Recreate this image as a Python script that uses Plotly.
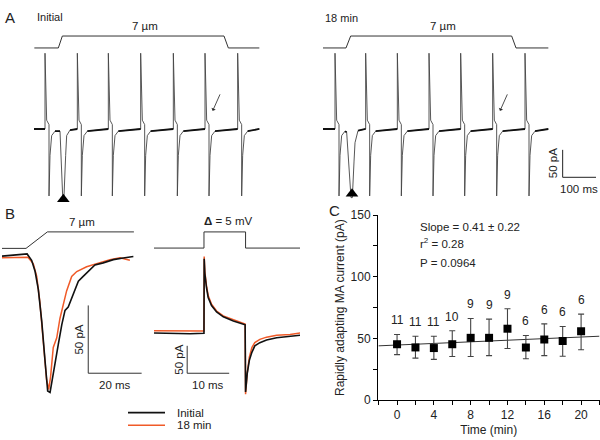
import plotly.graph_objects as go

# ---------------- Panel A data (ms, pA, um) ----------------
spike_dt = [0, 0, 5, 12, 12, 15, 20, 30]          # shape of a stimulus transient (ms offsets)
spike_pa = [0, 138, 16, 8, -122, -48, -12, -4]    # pA
a_init_spike_t = [33, 130, 223, 320, 418, 513, 611]
a_18_spike_t = [36, 128, 223, 318, 413, 509, 606]
a_init_dip_t = [78, 86, 90, 95, 98, 108]
a_init_dip_pa = [-4, -122, -122, -48, -12, -2]
a_18_dip_t = [71, 84, 88, 93, 96, 105]
a_18_dip_pa = [-6, -125, -125, -60, -25, -3]
a_end_t = 676
a_stim_init_t = [1, 73, 85, 570, 583, 676]
a_stim_18_t = [-1, 69, 83, 566, 579, 676]
a_stim_um = [0, 0, 7, 7, 0, 0]
a_tri_t = [88, 87]
a_tri_pa = [-128, -118]

# ---------------- Panel B left data (ms, pA) ----------------
bl_init_t = [0, 4.9, 9.4, 11.1, 12.4, 13.6, 14.9, 16.1, 17.1, 18.0, 18.6, 19.9, 21.1, 22.4,
             23.6, 24.8, 26.7, 28.6, 30.4, 32.3, 34.8, 37.9, 41.7, 45.4, 49.2]
bl_init_pa = [0, 0.6, 1.6, -3.1, -11.4, -24.5, -48.3, -76.8, -99.5, -100.6, -93.5, -76.8, -64.9,
              -50.6, -40.0, -37.6, -28.1, -18.6, -15.0, -11.4, -6.6, -5.0, -2.6, -1.4, -0.3]
bl_18_t = [0, 4.9, 9.7, 11.7, 13.0, 14.2, 15.5, 16.7, 17.5, 18.2, 19.2, 20.5, 21.7, 23.0,
           24.2, 26.1, 28.0, 31.7, 35.5, 40.4, 44.2, 47.9]
bl_18_pa = [-1.2, -0.9, -0.9, -5.5, -15.0, -34.1, -62.6, -91.2, -98.4, -88.9, -67.4, -60.3,
            -46.0, -34.1, -25.7, -15.0, -11.4, -7.9, -5.5, -2.6, -1.2, -3.1]
bl_stim_t = [-0.1, 9.0, 17.0, 49.4]
bl_stim_um = [0, 0, 7, 7]

# ---------------- Panel B right data (ms, pA, mV) ----------------
br_init_t = [0, 8.6, 11.9, 11.95, 12.1, 12.5, 12.9, 13.7, 14.9, 16.5, 18.9, 21.7, 21.8, 22.2,
             22.7, 23.3, 24.0, 25.2, 26.8, 29.2, 32.4, 34.8]
br_init_pa = [0, -1.4, -0.5, 135, 108.8, 82.4, 64.7, 50.1, 38.3, 29.5, 21.9, 14.8, -107.6,
              -73.4, -49.9, -35.3, -23.5, -17.6, -12.9, -8.8, -5.8, -4.1]
br_18_t = [0, 11.9, 11.95, 12.1, 12.5, 12.9, 13.7, 14.9, 16.5, 18.9, 21.7, 21.8, 22.2, 22.7,
           23.3, 24.0, 25.2, 26.8, 29.2, 32.4, 34.8]
br_18_pa = [4.2, 3.4, 139.3, 112.3, 85.9, 68.3, 52.4, 40.0, 31.2, 24.2, 16.2, -111.6, -72.8,
            -44.1, -26.5, -17.6, -11.6, -7.6, -4.1, -2.8, 0]
br_stim_t = [0, 11.9, 11.9, 21.8, 21.8, 34.8]
br_stim_mv = [0, 0, 5, 5, 0, 0]

# ---------------- Panel C data ----------------
c_time = [0, 2, 4, 6, 8, 10, 12, 14, 16, 18, 20]
c_mean = [45.3, 42.7, 42.2, 45.3, 50.5, 50.5, 57.9, 42.7, 49.2, 47.9, 55.8]
c_upper = [53.2, 51.8, 51.8, 56.3, 66.2, 65.7, 74.1, 52.4, 61.8, 59.7, 69.7]
c_lower = [36.9, 34.0, 33.0, 35.3, 35.3, 36.1, 41.9, 33.5, 36.1, 35.6, 40.8]
c_n = [11, 11, 11, 10, 9, 9, 9, 6, 6, 6, 6]
fit_t = [-2, 22]
fit_y = [44.0, 51.8]

BLACK = "#111111"
ORANGE = "#F05A28"
FONT = "Liberation Sans, Arial, sans-serif"
W, H = 600, 440


def px(x):
    return x / W


def py(y):
    return 1 - y / H


layout = dict(width=W, height=H, margin=dict(l=0, r=0, t=0, b=0),
              paper_bgcolor="white", plot_bgcolor="rgba(0,0,0,0)",
              showlegend=False, font=dict(family=FONT, size=12, color="#222"))


def ax_names(i):
    return ("xaxis" if i == 1 else f"xaxis{i}", "yaxis" if i == 1 else f"yaxis{i}",
            "x" if i == 1 else f"x{i}", "y" if i == 1 else f"y{i}")


def hidden_axes(i, xpx, xr, ypx, yr):
    xa, ya, xn, yn = ax_names(i)
    layout[xa] = dict(domain=[px(xpx[0]), px(xpx[1])], range=xr, visible=False, anchor=yn)
    layout[ya] = dict(domain=[py(ypx[1]), py(ypx[0])], range=yr, visible=False, anchor=xn)
    return xn, yn


traces = []


def line(x, y, axes, color=BLACK, width=1.0):
    traces.append(go.Scatter(x=x, y=y, mode="lines", xaxis=axes[0], yaxis=axes[1],
                             line=dict(color=color, width=width), hoverinfo="skip"))


def build_a(spikes, dip_t, dip_pa, end):
    ft, fy, st, sy = [0], [0], [], []
    events = []
    for k, s in enumerate(spikes):
        events.append(([s + d for d in spike_dt], spike_pa))
        if k == 0:
            events.append((dip_t, dip_pa))
    last = (0, 0)
    for et, ep in events:
        st += [last[0], et[0], None]
        sy += [last[1], ep[0], None]
        ft += list(et)
        fy += list(ep)
        last = (et[-1], ep[-1])
    st += [last[0], end]
    sy += [last[1], 0]
    ft.append(end)
    fy.append(0)
    return ft, fy, st, sy


# ---- Panel A left ----
a1s = hidden_axes(1, (34, 262), [0, 684], (24, 46), [-2.1, 10.4])
a1c = hidden_axes(2, (34, 262), [0, 684], (44, 200), [-130.5, 144.6])
# ---- Panel A right ----
a2s = hidden_axes(3, (323, 600), [0, 831], (24, 46), [-2.1, 10.4])
a2c = hidden_axes(4, (323, 600), [0, 831], (44, 200), [-130.5, 144.6])

line(a_stim_init_t, a_stim_um, a1s, "#333", 1.0)
line(a_stim_18_t, a_stim_um, a2s, "#333", 1.0)

for (spk, dt_, dp_, axc) in [(a_init_spike_t, a_init_dip_t, a_init_dip_pa, a1c),
                             (a_18_spike_t, a_18_dip_t, a_18_dip_pa, a2c)]:
    ft, fy, st, sy = build_a(spk, dt_, dp_, a_end_t)
    line(ft, fy, axc, "#444", 0.9)
    line(st, sy, axc, BLACK, 1.8)

traces.append(go.Scatter(x=[a_tri_t[0]], y=[a_tri_pa[0]], xaxis=a1c[0], yaxis=a1c[1], mode="markers",
                         marker=dict(symbol="triangle-up", size=11, color="black"), cliponaxis=False))
traces.append(go.Scatter(x=[a_tri_t[1]], y=[a_tri_pa[1]], xaxis=a2c[0], yaxis=a2c[1], mode="markers",
                         marker=dict(symbol="triangle-up", size=11, color="black"), cliponaxis=False))

# scale bar A (100 ms, 50 pA)
sb_t, sb_p = 719, -88
line([sb_t, sb_t, None, sb_t, sb_t + 100], [sb_p + 50, sb_p, None, sb_p, sb_p], a2c, "#222", 1.0)

# ---- Panel B left ----
b1s = hidden_axes(5, (2, 150), [0, 55.43], (228, 252), [-1.11, 8.77])
b1c = hidden_axes(6, (2, 150), [0, 55.43], (250, 405), [-105.5, 5.2])
line(bl_stim_t, bl_stim_um, b1s, "#333", 1.0)
line(bl_18_t, bl_18_pa, b1c, ORANGE, 1.5)
line(bl_init_t, bl_init_pa, b1c, BLACK, 1.6)
sbl_t, sbl_p = 32.3, -86.4
line([sbl_t, sbl_t, None, sbl_t, sbl_t + 20], [sbl_p + 50, sbl_p, None, sbl_p, sbl_p], b1c, "#333", 1.0)

# ---- Panel B right ----
b2s = hidden_axes(7, (154, 300), [0, 34.76], (228, 252), [-0.9, 6.29])
b2c = hidden_axes(8, (154, 300), [0, 34.76], (250, 405), [-120.5, 152.9])
line(br_stim_t, br_stim_mv, b2s, "#333", 1.0)
line(br_18_t, br_18_pa, b2c, ORANGE, 1.5)
line(br_init_t, br_init_pa, b2c, BLACK, 1.6)
sbr_t, sbr_p = 7.9, -73.4
line([sbr_t, sbr_t, None, sbr_t, sbr_t + 10], [sbr_p + 50, sbr_p, None, sbr_p, sbr_p], b2c, "#333", 1.0)

# ---- Panel C ----
xa, ya, xn, yn = ax_names(9)
layout[xa] = dict(domain=[px(378), px(599.5)], range=[-2.07, 22], anchor=yn,
                  showline=True, linecolor="black", linewidth=1, ticks="outside", ticklen=4,
                  tickcolor="black", tickvals=[0, 4, 8, 12, 16, 20], showgrid=False, zeroline=False,
                  minor=dict(tickvals=[-2, 2, 6, 10, 14, 18, 22], ticks="outside", ticklen=4,
                             tickcolor="black", showgrid=False),
                  tickfont=dict(size=12, color="#222"),
                  title=dict(text="Time (min)", font=dict(size=12, color="#222"), standoff=4))
layout[ya] = dict(domain=[py(406), py(215)], range=[0, 150], anchor=xn,
                  showline=True, linecolor="black", linewidth=1, ticks="outside", ticklen=4,
                  tickcolor="black", tickvals=[0, 50, 100, 150], showgrid=False, zeroline=False,
                  minor=dict(tickvals=[25, 75, 125], ticks="outside", ticklen=4,
                             tickcolor="black", showgrid=False),
                  tickfont=dict(size=12, color="#222"),
                  title=dict(text="Rapidly adapting MA current (pA)", font=dict(size=12, color="#222"),
                             standoff=3))

traces.append(go.Scatter(x=fit_t, y=fit_y, mode="lines", xaxis=xn, yaxis=yn,
                         line=dict(color="#333", width=1), hoverinfo="skip"))
traces.append(go.Scatter(
    x=c_time, y=c_mean, mode="markers", xaxis=xn, yaxis=yn,
    marker=dict(symbol="square", size=8, color="black"),
    error_y=dict(type="data", symmetric=False,
                 array=[u - m for u, m in zip(c_upper, c_mean)],
                 arrayminus=[m - l for m, l in zip(c_mean, c_lower)],
                 color="#444", thickness=1.1, width=3)))

annotations = []
for t, u, n in zip(c_time, c_upper, c_n):
    annotations.append(dict(x=t, y=u, xref=xn, yref=yn, text=str(n), showarrow=False,
                            yanchor="bottom", yshift=5, font=dict(size=12, color="#222")))


def ptext(x, y, text, size=12, xanchor="center", textangle=0):
    annotations.append(dict(x=px(x), y=py(y), xref="paper", yref="paper", text=text, showarrow=False,
                            xanchor=xanchor, yanchor="middle", textangle=textangle,
                            font=dict(size=size, color="#222", family=FONT)))


# stats text
ptext(418, 227, "Slope = 0.41 ± 0.22", 11.5, "left")
ptext(418, 244, "r<sup>2</sup> = 0.28", 11.5, "left")
ptext(418, 264, "P = 0.0964", 11.5, "left")

# panel letters and labels
ptext(3, 11, "A", 15, "left")
ptext(3, 213, "B", 15, "left")
ptext(327, 210, "C", 15, "left")
ptext(35, 10, "Initial", 11, "left")
ptext(323, 11, "18 min", 11, "left")
ptext(145, 20, "7 µm", 11.5)
ptext(443, 20, "7 µm", 11.5)
ptext(82, 222, "7 µm", 11.5)
ptext(228, 221, "<b>Δ</b> = 5 mV", 11.5)


# scale bar labels (data-anchored)
def dtext(axes, x, y, text, xshift=0, yshift=0, angle=0):
    annotations.append(dict(x=x, y=y, xref=axes[0], yref=axes[1], text=text, showarrow=False,
                            xshift=xshift, yshift=yshift, textangle=angle,
                            font=dict(size=11.5, color="#222")))


dtext(a2c, sb_t, sb_p + 25, "50 pA", xshift=-10, angle=-90)
dtext(a2c, sb_t + 50, sb_p, "100 ms", yshift=-12)
dtext(b1c, sbl_t, sbl_p + 25, "50 pA", xshift=-9, angle=-90)
dtext(b1c, sbl_t + 10, sbl_p, "20 ms", yshift=-12)
dtext(b2c, sbr_t, sbr_p + 25, "50 pA", xshift=-9, angle=-90)
dtext(b2c, sbr_t + 5, sbr_p, "10 ms", yshift=-12)

# arrows in panel A
for axc, t in [(a1c, 536), (a2c, 531)]:
    annotations.append(dict(x=t, y=33, xref=axc[0], yref=axc[1], text="", showarrow=True,
                            ax=8, ay=-18, arrowhead=1, arrowsize=1, arrowwidth=0.8,
                            arrowcolor="#222"))

# legend (B)
shapes = [
    dict(type="line", xref="paper", yref="paper", x0=px(128), x1=px(165), y0=py(419), y1=py(419),
         line=dict(color=BLACK, width=1.6)),
    dict(type="line", xref="paper", yref="paper", x0=px(128), x1=px(165), y0=py(432), y1=py(432),
         line=dict(color=ORANGE, width=1.6)),
]
ptext(175, 419, "Initial", 11.5, "left")
ptext(175, 432, "18 min", 11.5, "left")

layout["annotations"] = annotations
layout["shapes"] = shapes

fig = go.Figure(data=traces, layout=layout)
fig.write_html("out.html", config={"displayModeBar": False},
               post_script="document.body.style.margin='0';document.body.style.overflow='hidden';")
